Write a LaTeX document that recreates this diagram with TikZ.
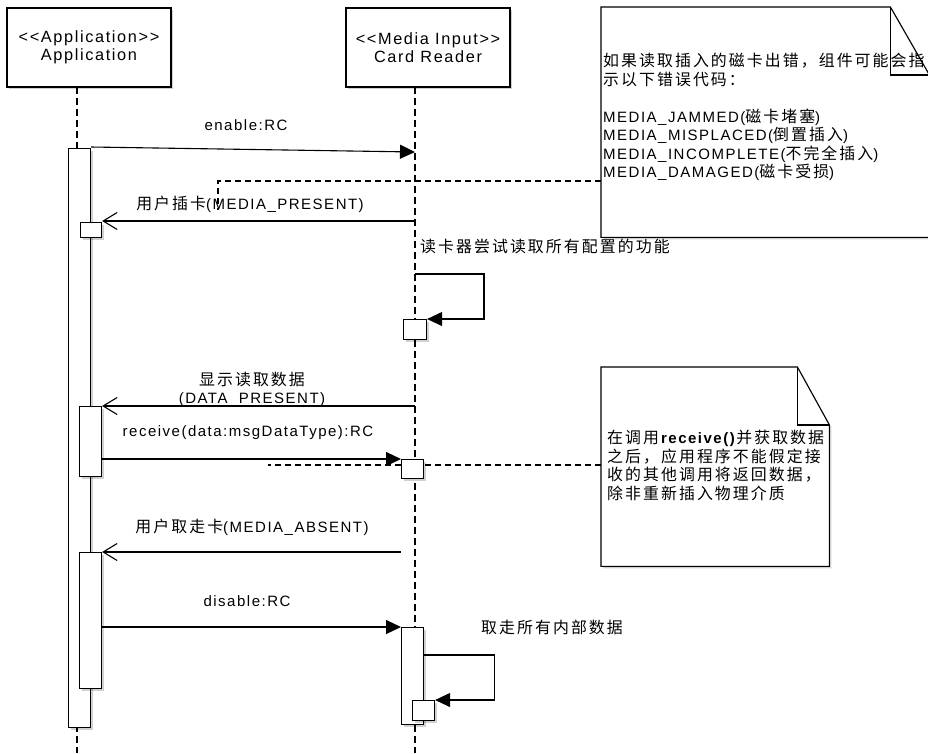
\documentclass[tikz,border=0pt]{standalone}
\usepackage{fontspec}
\setmainfont{Liberation Sans}[LetterSpace=10, Ligatures=TeXOff]
\newfontfamily\cjk{Noto Sans CJK SC}[LetterSpace=13, Scale=1.06]
\usetikzlibrary{arrows.meta,shadows}

\begin{document}
\begin{tikzpicture} [
    x=1pt, y=-1pt,
    font=\fontsize{15}{18}\selectfont,
    softshadow/.style={drop shadow={shadow xshift=2pt, shadow yshift=-2pt, opacity=0.18, fill=black}},
    head/.style={rectangle, draw, fill=white, line width=1.1pt, minimum width=164pt, minimum height=79pt, align=center,
        font=\fontsize{16.3}{18}\selectfont, softshadow},
    bar/.style={rectangle, draw, fill=white, line width=1.1pt, anchor=north west, inner sep=0pt, softshadow},
    lifeline/.style={line width=1.1pt, dash pattern=on 7pt off 4pt},
    call/.style={line width=1.1pt, -{Triangle[length=15pt,width=14pt]}},
    reply/.style={line width=1.1pt, -{Straight Barb[length=14pt,width=17pt]}},
    link/.style={line width=1.1pt, dash pattern=on 6pt off 4pt},
    notebox/.style={rectangle, anchor=north west, inner sep=0pt},
    notefold/.style={draw, fill=white, line width=1.1pt, softshadow},
    notetext/.style={anchor=north west, inner sep=0pt, align=left, font=\fontsize{15}{18.5}\selectfont}
]
\useasboundingbox (0,0) rectangle (928,753);

% Lifelines
\node[head] (app) at (89,47.5) {<<Application>>\\Application};
\node[head] (rdr) at (428,47.5) {<<Media Input>>\\Card Reader};
\coordinate (appLife) at (77,87);
\coordinate (appEnd) at (77,753);
\coordinate (rdrLife) at (415,87);
\coordinate (rdrEnd) at (415,753);
\draw[lifeline] (appLife) -- (appEnd);
\draw[lifeline] (rdrLife) -- (rdrEnd);

% Notes
\node[notebox, minimum width=328pt, minimum height=230pt] (note1) at (601,7) {};
\draw[notefold] (note1.north west) -- ([xshift=-39pt]note1.north east) -- ([yshift=-68pt]note1.north east)
    -- (note1.south east) -- (note1.south west) -- cycle;
\draw[line width=1.1pt] ([xshift=-39pt]note1.north east) |- ([yshift=-68pt]note1.north east);
\node[notetext] (note1text) at (603,53) {{\cjk 如果读取插入的磁卡出错，组件可能会指}\\{\cjk 示以下错误代码：}\\[18.5pt]
    MEDIA\_JAMMED({\cjk 磁卡堵塞})\\MEDIA\_MISPLACED({\cjk 倒置插入})\\MEDIA\_INCOMPLETE({\cjk 不完全插入})\\MEDIA\_DAMAGED({\cjk 磁卡受损})};

\node[notebox, minimum width=228pt, minimum height=199pt] (note2) at (601,367) {};
\draw[notefold] (note2.north west) -- ([xshift=-32pt]note2.north east) -- ([yshift=-58pt]note2.north east)
    -- (note2.south east) -- (note2.south west) -- cycle;
\draw[line width=1.1pt] ([xshift=-32pt]note2.north east) |- ([yshift=-58pt]note2.north east);
\node[notetext] (note2text) at (607,430) {{\cjk 在调用}\textbf{receive()}{\cjk 并获取数据}\\{\cjk 之后，应用程序不能假定接}\\{\cjk 收的其他调用将返回数据，}\\{\cjk 除非重新插入物理介质}};

% Note anchors
\coordinate (tag1) at (218,210);
\coordinate (tag2) at (268,465);
\draw[link] ([yshift=-174pt]note1.north west) -| (tag1);
\draw[link] ([yshift=-98pt]note2.north west) -- (tag2);

% Activations
\node[bar, minimum width=22pt, minimum height=579pt] (act1) at (68,148) {};
\node[bar, minimum width=21pt, minimum height=15pt] (act1b) at (80,222) {};
\node[bar, minimum width=22pt, minimum height=70pt] (act2) at (79,406) {};
\node[bar, minimum width=22pt, minimum height=136pt] (act3) at (79,552) {};
\node[bar, minimum width=23pt, minimum height=20pt] (ract1) at (403,319) {};
\node[bar, minimum width=22pt, minimum height=19pt] (ract2) at (401,459) {};
\node[bar, minimum width=22pt, minimum height=97pt] (ract3) at (401,627) {};
\node[bar, minimum width=22pt, minimum height=20pt] (ract3b) at (412,700) {};

% Messages
\coordinate (enableEnd) at (415,152);
\coordinate (selfStart) at (415,274);
\draw[call] ([yshift=1pt]act1.north east) -- (enableEnd);
\draw[reply] (act1b.north east -| rdrLife) ++(0,-1) -- ([yshift=1pt]act1b.north east);
\draw[call] (selfStart) -- ++(69,0) |- (ract1.north east);
\draw[reply] (act2.north east -| rdrLife) -- (act2.north east);
\draw[call] (ract2.north west -| act2.east) -- (ract2.north west);
\draw[reply] (act3.north east -| ract3.west) -- (act3.north east);
\draw[call] (ract3.north west -| act3.east) -- (ract3.north west);
\draw[call] ([yshift=-28pt]ract3.north east) -- ++(70,0) |- (ract3b.north east);

% Labels
\node (enableLbl) at (246,125) {enable:RC};
\node (insertLbl) at (250,204) {{\cjk 用户插卡}(MEDIA\_PRESENT)};
\node[anchor=west, inner sep=0pt] (readLbl) at (420,246) {\cjk 读卡器尝试读取所有配置的功能};
\node[align=center] (dataLbl) at (252,389) {{\cjk 显示读取数据}\\(DATA\_PRESENT)};
\node (receiveLbl) at (248,433) {receive(data:msgDataType):RC};
\node (absentLbl) at (252,527) {{\cjk 用户取走卡}(MEDIA\_ABSENT)};
\node (disableLbl) at (247,601) {disable:RC};
\node[anchor=west, inner sep=0pt] (clearLbl) at (481,627) {\cjk 取走所有内部数据};

\end{tikzpicture}
\end{document}
